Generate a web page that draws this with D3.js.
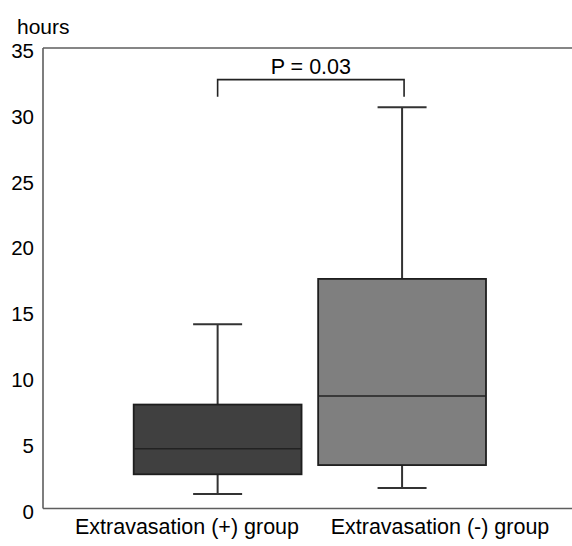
<!DOCTYPE html>
<html>
<head>
<meta charset="utf-8">
<script src="https://cdn.jsdelivr.net/npm/d3@7"></script>
<style>
  body { margin: 0; background: #fff; }
  svg { display: block; font-family: "Liberation Sans", Arial, sans-serif; }
</style>
</head>
<body>
<div id="chart"></div>
<script>
// data
const groups = ["Extravasation (+) group", "Extravasation (-) group"];
const whiskerLow = [1.1, 1.55];
const q1 = [2.6, 3.3];
const median = [4.55, 8.55];
const q3 = [7.9, 17.45];
const whiskerHigh = [14.0, 30.5];
const fills = ["#404040", "#7f7f7f"];
const yTicks = [0, 5, 10, 15, 20, 25, 30, 35];
const pLabel = "P = 0.03";
const bracketValues = [31.3, 32.6];

const W = 572, H = 546;
const svg = d3.select("#chart").append("svg")
  .attr("width", W).attr("height", H);

const y = d3.scaleLinear().domain([0, 35]).range([508.5, 48]);
const x = d3.scaleBand().domain(groups).range([133.7, 486])
  .paddingInner(0.09).paddingOuter(0);
const labelX = d3.scalePoint().domain(groups).range([187, 440]);

// frame lines (left, top, bottom)
const frame = svg.append("g").attr("stroke", "#5e5e5e").attr("stroke-width", 1.6);
frame.append("line").attr("x1", 43).attr("x2", 43).attr("y1", y(35)).attr("y2", y(0));
frame.append("line").attr("x1", 43).attr("x2", W).attr("y1", y(35)).attr("y2", y(35));
frame.append("line").attr("x1", 43).attr("x2", W).attr("y1", y(0)).attr("y2", y(0));

// y axis labels
const yAxis = d3.axisLeft(y).tickValues(yTicks).tickSize(0).tickPadding(9);
svg.append("g").attr("transform", "translate(43,3)").call(yAxis)
  .call(g => g.select(".domain").remove())
  .selectAll("text")
  .attr("font-size", 20.5).attr("font-family", "Liberation Sans, Arial").attr("fill", "#000");

svg.append("text").attr("x", 17).attr("y", 34)
  .attr("font-size", 21).attr("fill", "#000").text("hours");

// boxes
const capW = 49;
const box = svg.append("g").selectAll("g").data(groups).join("g");
box.each(function (d, i) {
  const g = d3.select(this);
  const cx = x(d) + x.bandwidth() / 2;
  g.append("line").attr("x1", cx).attr("x2", cx)
    .attr("y1", y(whiskerLow[i])).attr("y2", y(whiskerHigh[i]))
    .attr("stroke", "#333").attr("stroke-width", 2);
  [whiskerLow[i], whiskerHigh[i]].forEach(v => {
    g.append("line").attr("x1", cx - capW / 2).attr("x2", cx + capW / 2)
      .attr("y1", y(v)).attr("y2", y(v))
      .attr("stroke", "#333").attr("stroke-width", 2);
  });
  g.append("rect").attr("x", x(d)).attr("width", x.bandwidth())
    .attr("y", y(q3[i])).attr("height", y(q1[i]) - y(q3[i]))
    .attr("fill", fills[i]).attr("stroke", "#1e1e1e").attr("stroke-width", 1.8);
  g.append("line").attr("x1", x(d)).attr("x2", x(d) + x.bandwidth())
    .attr("y1", y(median[i])).attr("y2", y(median[i]))
    .attr("stroke", "#222").attr("stroke-width", 1.5);
});

// category labels
svg.append("g").selectAll("text").data(groups).join("text")
  .attr("x", d => labelX(d)).attr("y", 534)
  .attr("text-anchor", "middle").attr("font-size", 21.5).attr("fill", "#000")
  .text(d => d);

// significance bracket
const bx1 = x(groups[0]) + x.bandwidth() / 2;
const bx2 = x(groups[1]) + x.bandwidth() / 2 + 2;
svg.append("path")
  .attr("d", `M${bx1},${y(bracketValues[0])}V${y(bracketValues[1])}H${bx2}V${y(bracketValues[0])}`)
  .attr("fill", "none").attr("stroke", "#222").attr("stroke-width", 1.6);
svg.append("text").attr("x", (bx1 + bx2) / 2).attr("y", 74)
  .attr("text-anchor", "middle").attr("font-size", 21.5).attr("fill", "#000")
  .text(pLabel);
</script>
</body>
</html>
